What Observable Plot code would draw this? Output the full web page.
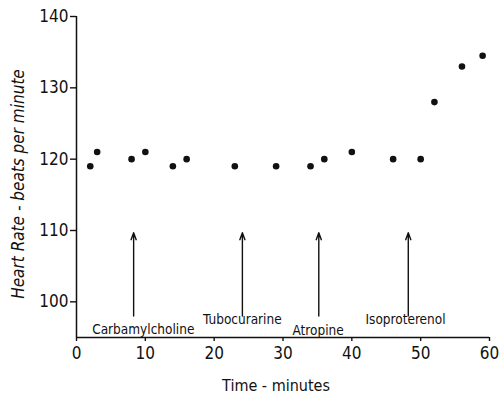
<!DOCTYPE html>
<html>
<head>
<meta charset="utf-8">
<script src="https://cdn.jsdelivr.net/npm/d3@7"></script>
<script src="https://cdn.jsdelivr.net/npm/@observablehq/plot@0.6"></script>
<style>
  html, body { margin: 0; padding: 0; background: #fff; }
</style>
</head>
<body>
<div id="chart"></div>
<script>
const times = [2, 3, 8, 10, 14, 16, 23, 29, 34, 36, 40, 46, 50, 52, 56, 59];
const rates = [119, 121, 120, 121, 119, 120, 119, 119, 119, 120, 121, 120, 120, 128, 133, 134.5];

const drugs = ["Carbamylcholine", "Tubocurarine", "Atropine", "Isoproterenol"];
const drugTimes = [8.3, 24.1, 35.2, 48.2];
const labelX = [9.7, 24.1, 35.1, 47.8];
const labelY = [96.1, 97.5, 96.0, 97.5];
const arrowFrom = 98;
const arrowTo = 109.7;

const xTicks = [0, 10, 20, 30, 40, 50, 60];
const yTicks = [100, 110, 120, 130, 140];

const points = times.map((t, i) => ({t, r: rates[i]}));
const events = drugs.map((d, i) => ({name: d, t: drugTimes[i], lx: labelX[i], ly: labelY[i]}));

const font = "'DejaVu Sans Condensed', 'Liberation Sans Narrow', sans-serif";

const chart = Plot.plot({
  width: 499,
  height: 397,
  marginLeft: 76,
  marginRight: 10,
  marginTop: 16,
  marginBottom: 60,
  style: {fontFamily: font, background: "white", color: "#111"},
  x: {domain: [0, 60]},
  y: {domain: [95, 140]},
  marks: [
    Plot.axisX({ticks: xTicks, tickSize: 4, tickPadding: 5, fontSize: 17, label: null, strokeWidth: 1.4}),
    Plot.axisY({ticks: yTicks, tickSize: 6, tickPadding: 2, fontSize: 17, label: null, strokeWidth: 1.4}),
    Plot.ruleY([95], {x1: 0, x2: 60, strokeWidth: 1.5, stroke: "#111"}),
    Plot.ruleX([0], {y1: 95, y2: 140, strokeWidth: 1.5, stroke: "#111"}),
    Plot.dot(points, {x: "t", y: "r", r: 3.3, fill: "#111", stroke: "none"}),
    Plot.arrow(events, {x1: "t", x2: "t", y1: () => arrowFrom, y2: () => arrowTo, stroke: "#111", strokeWidth: 1.4, headLength: 8, headAngle: 40}),
    Plot.text(events, {x: "lx", y: "ly", text: "name", fontSize: 13.5, fill: "#111", letterSpacing: "0.5px"}),
    Plot.text([0], {frameAnchor: "bottom", text: () => "Time - minutes", dx: -7, dy: 53, fontSize: 16, fill: "#111", letterSpacing: "1.2px"}),
    Plot.text([0], {frameAnchor: "left", textAnchor: "middle", text: () => "Heart Rate - beats per minute", rotate: -90, dx: -58, dy: 7, fontSize: 17, fontStyle: "italic", fill: "#111", letterSpacing: "3.1px"})
  ]
});
document.getElementById("chart").appendChild(chart);
</script>
</body>
</html>
